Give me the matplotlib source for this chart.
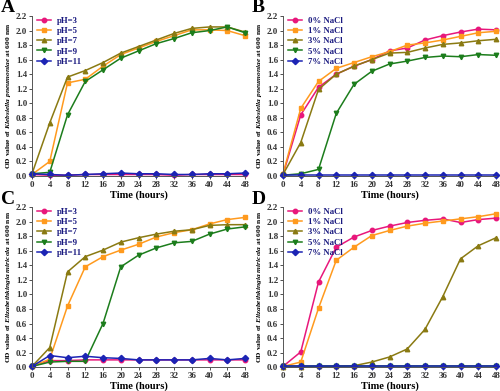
import matplotlib
matplotlib.use('Agg')
from matplotlib import pyplot as plt
import numpy as np

plt.rcParams['font.family'] = ['Liberation Serif', 'DejaVu Serif']
plt.rcParams['font.weight'] = 'bold'
plt.rcParams['mathtext.fontset'] = 'custom'
plt.rcParams['mathtext.it'] = 'Liberation Serif:italic:bold'
plt.rcParams['mathtext.rm'] = 'Liberation Serif:bold'

# Time points (hours)
hours = [0, 4, 8, 12, 16, 20, 24, 28, 32, 36, 40, 44, 48]

ph_labels = ['pH=3', 'pH=5', 'pH=7', 'pH=9', 'pH=11']
nacl_labels = ['0% NaCl', '1% NaCl', '3% NaCl', '5% NaCl', '7% NaCl']

# Panel A: Klebsiella pneumoniae, pH
a_ph3 = [0.02, 0.01, 0.01, 0.02, 0.02, 0.02, 0.02, 0.02, 0.01, 0.02, 0.02, 0.02, 0.02]
a_ph5 = [0.02, 0.20, 1.28, 1.33, 1.51, 1.67, 1.76, 1.85, 1.93, 2.01, 2.01, 2.00, 1.93]
a_ph7 = [0.03, 0.73, 1.36, 1.45, 1.56, 1.69, 1.78, 1.87, 1.96, 2.03, 2.05, 2.05, 1.98]
a_ph9 = [0.03, 0.05, 0.84, 1.30, 1.46, 1.62, 1.72, 1.82, 1.89, 1.97, 2.00, 2.05, 1.97]
a_ph11 = [0.03, 0.02, 0.01, 0.02, 0.03, 0.04, 0.03, 0.03, 0.02, 0.02, 0.03, 0.03, 0.04]

# Panel B: Klebsiella pneumoniae, NaCl
b_n0 = [0.02, 0.84, 1.22, 1.40, 1.51, 1.60, 1.72, 1.76, 1.87, 1.93, 1.98, 2.02, 2.01]
b_n1 = [0.03, 0.93, 1.30, 1.48, 1.56, 1.64, 1.71, 1.80, 1.83, 1.87, 1.92, 1.97, 1.99]
b_n3 = [0.02, 0.46, 1.19, 1.40, 1.51, 1.60, 1.69, 1.70, 1.76, 1.81, 1.83, 1.86, 1.88]
b_n5 = [0.01, 0.03, 0.09, 0.86, 1.26, 1.44, 1.54, 1.58, 1.63, 1.65, 1.64, 1.67, 1.66]
b_n7 = [0.01, 0.01, 0.01, 0.01, 0.01, 0.01, 0.01, 0.01, 0.01, 0.01, 0.01, 0.01, 0.01]

# Panel C: Elizabethkingia miricola, pH
c_ph3 = [0.01, 0.09, 0.09, 0.10, 0.10, 0.10, 0.10, 0.10, 0.10, 0.10, 0.10, 0.10, 0.10]
c_ph5 = [0.01, 0.11, 0.84, 1.38, 1.52, 1.61, 1.69, 1.79, 1.85, 1.89, 1.97, 2.03, 2.06]
c_ph7 = [0.01, 0.27, 1.31, 1.52, 1.61, 1.72, 1.78, 1.83, 1.87, 1.89, 1.95, 1.96, 1.96]
c_ph9 = [0.01, 0.07, 0.08, 0.08, 0.60, 1.38, 1.54, 1.64, 1.71, 1.73, 1.83, 1.90, 1.93]
c_ph11 = [0.01, 0.16, 0.13, 0.15, 0.13, 0.12, 0.10, 0.10, 0.10, 0.10, 0.12, 0.10, 0.12]

# Panel D: Elizabethkingia miricola, NaCl
d_n0 = [0.01, 0.21, 1.17, 1.65, 1.79, 1.88, 1.94, 1.99, 2.02, 2.04, 1.99, 2.03, 2.05]
d_n1 = [0.01, 0.07, 0.81, 1.47, 1.65, 1.81, 1.88, 1.94, 1.98, 2.01, 2.04, 2.07, 2.11]
d_n3 = [0.00, 0.00, 0.01, 0.01, 0.02, 0.07, 0.14, 0.25, 0.52, 0.97, 1.49, 1.67, 1.78]
d_n5 = [0.01, 0.01, 0.01, 0.01, 0.01, 0.01, 0.01, 0.01, 0.01, 0.01, 0.01, 0.01, 0.01]
d_n7 = [0.01, 0.01, 0.01, 0.01, 0.01, 0.01, 0.01, 0.01, 0.01, 0.01, 0.01, 0.01, 0.01]

colors = ['#e8177b', '#ff9a1e', '#8a7a12', '#1c7d1c', '#1c24b4']
markers = ['o', 's', '^', 'v', 'D']

panels = [
    ('A', [a_ph3, a_ph5, a_ph7, a_ph9, a_ph11], ph_labels, 'Klebsiella\\ pneumoniae'),
    ('B', [b_n0, b_n1, b_n3, b_n5, b_n7], nacl_labels, 'Klebsiella\\ pneumoniae'),
    ('C', [c_ph3, c_ph5, c_ph7, c_ph9, c_ph11], ph_labels, 'Elizabethkingia\\ miricola'),
    ('D', [d_n0, d_n1, d_n3, d_n5, d_n7], nacl_labels, 'Elizabethkingia\\ miricola'),
]

fig = plt.figure(figsize=(5, 3.91), dpi=100)
positions = [(0.064, 0.550, 0.426, 0.409), (0.566, 0.550, 0.426, 0.409),
             (0.064, 0.061, 0.426, 0.409), (0.566, 0.061, 0.426, 0.409)]

for (letter, series, labels, species), pos in zip(panels, positions):
    ax = fig.add_axes(pos)
    for vals, lab, c, m in zip(series, labels, colors, markers):
        ax.plot(hours, vals, color=c, marker=m, markersize=3.2, linewidth=1.1,
                label=lab, clip_on=False)
    ax.set_xlim(0, 48)
    ax.set_ylim(0, 2.2)
    ax.set_xticks(hours)
    ax.set_yticks(np.arange(0, 2.21, 0.2))
    ax.set_yticklabels(['%.1f' % v for v in np.arange(0, 2.21, 0.2)])
    ax.tick_params(labelsize=6.5, length=2, width=0.6, pad=1.5, colors='#333333')
    for s in ['top', 'right']:
        ax.spines[s].set_visible(False)
    for s in ['left', 'bottom']:
        ax.spines[s].set_linewidth(0.7)
        ax.spines[s].set_color('#555555')
    ax.set_xlabel('Time (hours)', fontsize=7.5, fontweight='bold', labelpad=1)
    ax.set_ylabel('OD value of $\\mathit{' + species + '}$ at 600 nm',
                  fontsize=5.4, fontweight='bold', labelpad=2)
    leg = ax.legend(loc='upper left', bbox_to_anchor=(0.0, 1.03), fontsize=6.3,
                    frameon=False, handlelength=1.6, handletextpad=0.6,
                    labelspacing=0.25, borderaxespad=0.2)
    for t in leg.get_texts():
        t.set_color('#1a1a80')
    fig.text(pos[0] - 0.062, pos[1] + pos[3] + 0.021, letter, fontsize=14,
             fontweight='bold', va='center', ha='left')

fig.savefig('out.png', dpi=100)
